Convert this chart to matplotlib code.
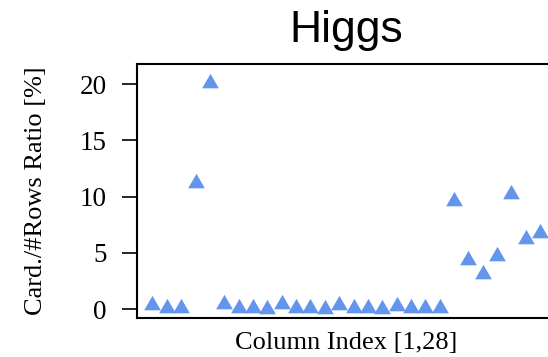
import matplotlib
matplotlib.use("Agg")
import matplotlib.pyplot as plt

title = "Higgs"
x_label = "Column Index [1,28]"
y_label = "Card./#Rows Ratio [%]"
column_index = list(range(1, 29))
ratio_pct = [0.35, 0.05, 0.05, 11.25, 20.15, 0.45, 0.1, 0.1, 0.01, 0.45,
             0.1, 0.1, 0.02, 0.35, 0.1, 0.1, 0.02, 0.3, 0.1, 0.1,
             0.05, 9.6, 4.4, 3.1, 4.7, 10.2, 6.2, 6.8]
y_ticks = [0, 5, 10, 15, 20]

W, H = 548, 357
fig = plt.figure(figsize=(W / 100, H / 100), dpi=100)
left, right = 136.7, 556.0
top, bottom = 64.0, 317.7
ax = fig.add_axes([left / W, (H - bottom) / H, (right - left) / W, (bottom - top) / H])

tri = [(-1, -0.57735), (1, -0.57735), (0, 1.1547), (-1, -0.57735)]
ax.plot(column_index, ratio_pct, linestyle="none", marker=tri, markersize=13.9,
        markeredgewidth=0, color="#6495ED", clip_on=False)

ax.set_xlim(-0.1, 29.1)
ax.set_ylim(-0.77, 21.8)
ax.set_xticks([])
ax.set_yticks(y_ticks)
ax.set_yticklabels([str(v) for v in y_ticks], family="Liberation Serif", fontsize=19.5)
ax.tick_params(axis="y", direction="out", length=10.8, width=1.2, pad=11)
for s in ax.spines.values():
    s.set_linewidth(1.5)

ax.set_title(title, family="Liberation Sans", fontsize=32, pad=16)
ax.set_xlabel(x_label, family="Liberation Serif", fontsize=19, labelpad=10)
ax.set_ylabel(y_label, family="Liberation Serif", fontsize=19, labelpad=23)

fig.savefig("out.png", dpi=100)
